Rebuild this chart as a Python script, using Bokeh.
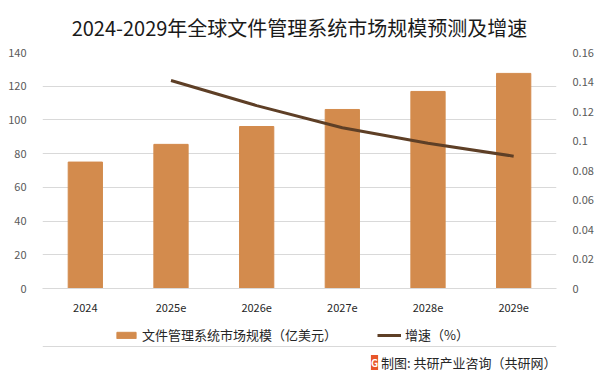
from bokeh.plotting import figure
from bokeh.models import (Range1d, LinearAxis, FixedTicker, Legend, LegendItem, FactorRange, Label, Span)
from bokeh.layouts import column
from bokeh.embed import file_html
from bokeh.resources import INLINE

years = ["2024", "2025e", "2026e", "2027e", "2028e", "2029e"]
market_size = [75, 85.5, 96.1, 106.2, 116.9, 127.6]
growth_years = ["2025e", "2026e", "2027e", "2028e", "2029e"]
growth_rate = [0.141, 0.124, 0.109, 0.0985, 0.0897]
left_ticks = [0, 20, 40, 60, 80, 100, 120, 140]
right_ticks = [0, 0.02, 0.04, 0.06, 0.08, 0.1, 0.12, 0.14, 0.16]
right_tick_labels = ["0", "0.02", "0.04", "0.06", "0.08", "0.1", "0.12", "0.14", "0.16"]

FONT = "Noto Sans CJK SC"
BAR_COLOR = "#D38B4D"
LINE_COLOR = "#5E3F26"
W, H1, H2 = 602, 318, 60
FL, FR = 42, 556  # frame edges (shared by both plots in the column)

p = figure(width=W, height=H1, x_range=FactorRange(*years), y_range=Range1d(0, 140),
           output_backend="svg", toolbar_location=None,
           min_border_left=FL, min_border_right=W - FR, min_border_top=52, min_border_bottom=30)
p.outline_line_color = None
p.extra_y_ranges = {"rate": Range1d(0, 0.16)}

p.title.text = "2024-2029年全球文件管理系统市场规模预测及增速"
p.title.align = "center"
p.title.text_font = FONT
p.title.text_font_size = "20px"
p.title.text_font_style = "normal"
p.title.text_color = "#1A1A1A"
p.title.standoff = 21

p.vbar(x=years, top=market_size, width=0.4, color=BAR_COLOR)
p.line(x=growth_years, y=growth_rate, y_range_name="rate", color=LINE_COLOR, line_width=3)

p.xgrid.grid_line_color = None
p.ygrid.grid_line_color = "#D9D9D9"
p.ygrid.ticker = FixedTicker(ticks=left_ticks)

ya = p.yaxis[0]
ya.ticker = FixedTicker(ticks=left_ticks)
ya.axis_line_color = None
ya.major_tick_line_color = None
ya.minor_tick_line_color = None
ya.major_label_text_color = "#595959"
ya.major_label_text_font = FONT
ya.major_label_text_font_size = "11px"
ya.major_label_standoff = 10

ra = LinearAxis(y_range_name="rate", ticker=FixedTicker(ticks=right_ticks),
                major_label_overrides={t: l for t, l in zip(right_ticks, right_tick_labels)})
ra.axis_line_color = None
ra.major_tick_line_color = None
ra.minor_tick_line_color = None
ra.major_label_text_color = "#595959"
ra.major_label_text_font = FONT
ra.major_label_text_font_size = "11px"
ra.major_label_standoff = 10
p.add_layout(ra, "right")

xa = p.xaxis[0]
xa.axis_line_color = "#D9D9D9"
xa.major_tick_line_color = None
xa.minor_tick_line_color = None
xa.major_label_text_color = "#262626"
xa.major_label_text_font = FONT
xa.major_label_text_font_size = "11px"
xa.major_label_standoff = 9

# footer figure: legend, separator and source note; its frame is aligned with p's frame
q = figure(width=W, height=H2, x_range=Range1d(FL, FR), y_range=Range1d(0, H2),
           output_backend="svg", toolbar_location=None,
           x_axis_location=None, y_axis_location=None,
           min_border_left=FL, min_border_right=W - FR, min_border_top=0, min_border_bottom=0)
q.outline_line_color = None
q.grid.visible = False
lb = q.vbar(x=[FL], top=[0], width=0, color=BAR_COLOR, visible=False)
ll = q.line(x=[FL, FL], y=[0, 0], color=LINE_COLOR, line_width=3, visible=False)

legend = Legend(items=[LegendItem(label="文件管理系统市场规模（亿美元）", renderers=[lb]),
                       LegendItem(label="增速（%）", renderers=[ll])],
                orientation="horizontal", location=(114 - FL, 34),
                glyph_width=24, glyph_height=8, spacing=40, padding=0, margin=0,
                inactive_fill_alpha=0,
                label_text_font=FONT, label_text_font_size="13px", label_text_color="#262626",
                background_fill_alpha=0, border_line_color=None, label_standoff=4)
q.add_layout(legend, "center")

q.add_layout(Span(location=32, dimension="width", line_color="#D9D9D9", line_width=1))

q.add_layout(Label(x=FR, y=16, text="制图: 共研产业咨询（共研网）", text_font=FONT,
                   text_font_size="13px", text_color="#262626", text_align="right",
                   text_baseline="middle"))
q.add_layout(Label(x=374, y=16, text="G", text_font=FONT, text_font_size="10px",
                   text_font_style="bold", text_color="white", background_fill_color="#E8562A",
                   text_align="center", text_baseline="middle"))

layout = column(p, q, spacing=0)
open("out.html", "w").write(file_html(layout, INLINE))
